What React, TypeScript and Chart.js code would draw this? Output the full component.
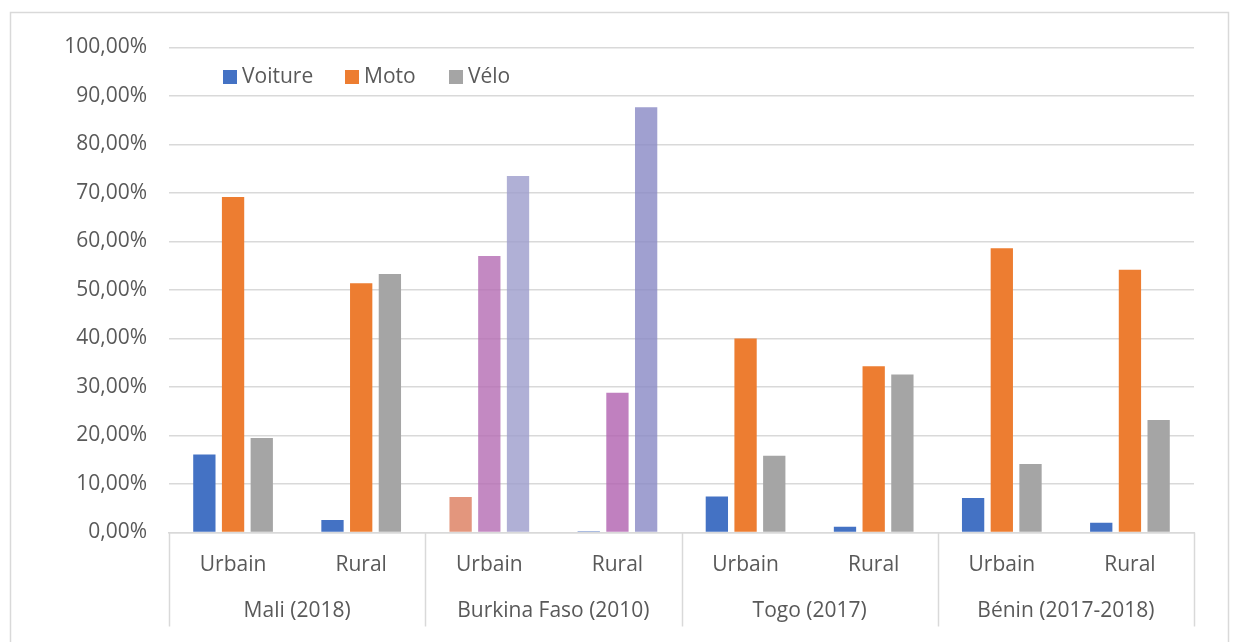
import React, { useEffect, useRef } from "react";
import { Chart, registerables } from "chart.js";

Chart.register(...registerables);

const categories = ["Urbain", "Rural", "Urbain", "Rural", "Urbain", "Rural", "Urbain", "Rural"];
const countries = ["Mali (2018)", "Burkina Faso (2010)", "Togo (2017)", "Bénin (2017-2018)"];
const seriesNames = ["Voiture", "Moto", "Vélo"];
const voiture = [16.1, 2.6, 7.3, 0.3, 7.4, 1.2, 7.1, 2.0];
const moto = [69.2, 51.4, 57.0, 28.8, 40.0, 34.3, 58.6, 54.2];
const velo = [19.5, 53.3, 73.5, 87.7, 15.8, 32.6, 14.1, 23.2];
const yTicks = [0, 10, 20, 30, 40, 50, 60, 70, 80, 90, 100];

const legendColors = ["#4472C4", "#ED7D31", "#A5A5A5"];
const voitureColors = ["#4472C4", "#4472C4", "rgba(220,124,93,0.8)", "rgba(115,144,206,0.8)", "#4472C4", "#4472C4", "#4472C4", "#4472C4"];
const motoColors = ["#ED7D31", "#ED7D31", "rgba(180,108,179,0.8)", "rgba(176,96,175,0.8)", "#ED7D31", "#ED7D31", "#ED7D31", "#ED7D31"];
const veloColors = ["#A5A5A5", "#A5A5A5", "rgba(156,156,204,0.8)", "rgba(136,136,196,0.8)", "#A5A5A5", "#A5A5A5", "#A5A5A5", "#A5A5A5"];

const FONT = "'Open Sans', sans-serif";
const TEXT = "#595959";
const LINE = "#d9d9d9";

const decorPlugin = {
  id: "decor",
  beforeDraw(chart: any) {
    const ctx = chart.ctx;
    ctx.save();
    ctx.fillStyle = "#ffffff";
    ctx.fillRect(0, 0, chart.width, chart.height);
    ctx.strokeStyle = LINE;
    ctx.lineWidth = 1.5;
    ctx.strokeRect(10.5, 12.5, 1218, 640);
    ctx.restore();
  },
  afterDraw(chart: any) {
    const ctx = chart.ctx;
    const xs = chart.scales.x;
    const area = chart.chartArea;
    const n = categories.length;
    const bounds: number[] = [];
    for (let g = 0; g <= countries.length; g++) {
      const i = g * 2;
      let x;
      if (i === 0) x = area.left;
      else if (i >= n) x = area.right;
      else x = (xs.getPixelForValue(i - 1) + xs.getPixelForValue(i)) / 2;
      bounds.push(x);
    }
    ctx.save();
    ctx.strokeStyle = LINE;
    ctx.lineWidth = 1.5;
    bounds.forEach((x) => {
      ctx.beginPath();
      ctx.moveTo(Math.round(x) + 0.5, area.bottom);
      ctx.lineTo(Math.round(x) + 0.5, area.bottom + 94);
      ctx.stroke();
    });
    ctx.fillStyle = TEXT;
    ctx.font = `21px ${FONT}`;
    ctx.textAlign = "center";
    ctx.textBaseline = "middle";
    countries.forEach((c, g) => {
      ctx.fillText(c, (bounds[g] + bounds[g + 1]) / 2, area.bottom + 79);
    });
    // legend
    const lx = [223, 345, 449];
    ctx.textAlign = "left";
    seriesNames.forEach((name, k) => {
      ctx.fillStyle = legendColors[k];
      ctx.fillRect(lx[k], 70, 14, 14);
      ctx.fillStyle = TEXT;
      ctx.fillText(name, lx[k] + 19, 77);
    });
    ctx.restore();
  },
};

export default function App() {
  const ref = useRef<HTMLCanvasElement | null>(null);
  useEffect(() => {
    if (!ref.current) return;
    const chart = new Chart(ref.current, {
      type: "bar",
      data: {
        labels: categories,
        datasets: [
          { label: seriesNames[0], data: voiture, backgroundColor: voitureColors },
          { label: seriesNames[1], data: moto, backgroundColor: motoColors },
          { label: seriesNames[2], data: velo, backgroundColor: veloColors },
        ],
      },
      options: {
        responsive: false,
        animation: false,
        devicePixelRatio: 1,
        datasets: { bar: { categoryPercentage: 0.672, barPercentage: 0.777 } },
        layout: { padding: { left: 0, right: 44, top: 47.5, bottom: 0 } },
        plugins: { legend: { display: false }, tooltip: { enabled: false } },
        scales: {
          x: {
            grid: { display: false, drawTicks: false },
            border: { display: true, color: LINE, width: 1.5 },
            ticks: { color: TEXT, font: { family: FONT, size: 21 }, padding: 20, maxRotation: 0, autoSkip: false },
            afterFit(scale: any) {
              scale.height = 109.5;
            },
          },
          y: {
            min: 0,
            max: 100,
            afterBuildTicks(scale: any) {
              scale.ticks = yTicks.map((v) => ({ value: v }));
            },
            grid: { color: LINE, lineWidth: 1.5, drawTicks: false },
            border: { display: false },
            ticks: {
              color: TEXT,
              font: { family: FONT, size: 21 },
              padding: 22,
              callback: (v: any) => Number(v).toFixed(2).replace(".", ",") + "%",
            },
            afterFit(scale: any) {
              scale.width = 169;
            },
          },
        },
      },
      plugins: [decorPlugin],
    });
    return () => chart.destroy();
  }, []);
  return (
    <div style={{ position: "absolute", left: 0, top: 0, width: 1238, height: 642 }}>
      <canvas ref={ref} width={1238} height={642} style={{ display: "block" }} />
    </div>
  );
}
